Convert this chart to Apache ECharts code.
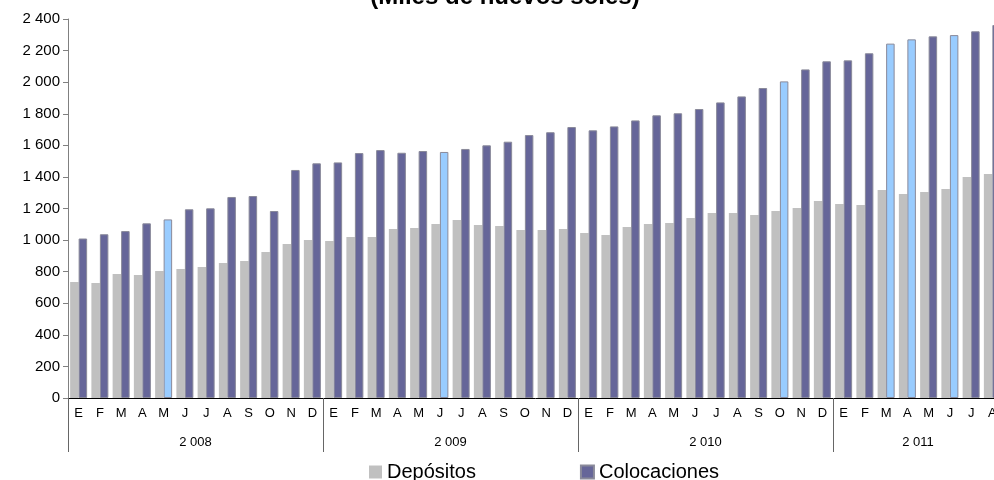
<!DOCTYPE html>
<html>
<head>
<meta charset="utf-8">
<script src="https://cdn.jsdelivr.net/npm/echarts@6/dist/echarts.min.js"></script>
<style>
  html, body { margin: 0; padding: 0; background: #fff; overflow: hidden; }
  /* el gráfico original está recortado por la derecha */
  #chart { width: 1010px; height: 480px; }
</style>
</head>
<body>
<div id="chart"></div>
<script>
// meses ene-2008 .. ago-2011
var meses = ['E','F','M','A','M','J','J','A','S','O','N','D',
             'E','F','M','A','M','J','J','A','S','O','N','D',
             'E','F','M','A','M','J','J','A','S','O','N','D',
             'E','F','M','A','M','J','J','A'];
var anios = ['2 008', '2 009', '2 010', '2 011'];
var aniosCentro = [6, 18, 30, 40];
var aniosLimites = [0, 12, 24, 36, 44];

var depositos = [735, 728, 785, 779, 804, 817, 830, 855, 868, 924, 975, 1000,
                 994, 1020, 1020, 1070, 1076, 1102, 1127, 1095, 1089, 1064, 1064, 1070,
                 1045, 1032, 1083, 1102, 1108, 1140, 1171, 1171, 1159, 1184, 1203, 1247,
                 1228, 1222, 1317, 1292, 1304, 1323, 1399, 1418];
var colocaciones = [1010, 1037, 1057, 1106, 1131, 1195, 1201, 1273, 1279, 1184, 1444, 1486,
                    1492, 1551, 1570, 1553, 1564, 1558, 1577, 1600, 1623, 1665, 1683, 1716,
                    1695, 1720, 1758, 1790, 1803, 1830, 1872, 1910, 1963, 2005, 2081, 2132,
                    2138, 2183, 2244, 2271, 2290, 2298, 2322, 2362];
// barras resaltadas en celeste
var resaltados = [4, 17, 33, 38, 39, 41];

function miles(v) {
  return String(v).replace(/\B(?=(\d{3})+(?!\d))/g, ' ');
}

var chart = echarts.init(document.getElementById('chart'));
chart.setOption({
  animation: false,
  textStyle: { fontFamily: 'Liberation Sans, Arial, sans-serif' },
  title: {
    text: '(Miles de nuevos soles)',
    left: 500, textAlign: 'center', top: -20,
    textStyle: { fontSize: 24, fontWeight: 'bold', color: '#000' }
  },
  legend: {
    left: 364, top: 457,
    itemWidth: 13, itemHeight: 13, itemGap: 104,
    textStyle: { fontSize: 20, color: '#000' },
    data: [
      { name: 'Depósitos', icon: 'rect' },
      { name: 'Colocaciones', icon: 'rect' }
    ]
  },
  grid: { left: 68, top: 19, width: 935, height: 379 },
  xAxis: [
    {
      type: 'category',
      data: meses,
      axisLine: { lineStyle: { color: '#000', width: 1 } },
      axisTick: { show: false },
      axisLabel: { interval: 0, fontSize: 13, color: '#000', margin: 9 }
    },
    {
      type: 'value',
      position: 'bottom',
      min: 0, max: 44,
      axisLine: { show: false },
      splitLine: { show: false },
      axisTick: {
        show: true, length: 54,
        customValues: aniosLimites,
        lineStyle: { color: '#666', width: 1 }
      },
      axisLabel: {
        customValues: aniosCentro,
        fontSize: 13, color: '#000', margin: 38,
        formatter: function (v) { return anios[aniosCentro.indexOf(v)]; }
      }
    }
  ],
  yAxis: {
    type: 'value',
    min: 0, max: 2400, interval: 200,
    splitLine: { show: false },
    axisLine: { show: true, lineStyle: { color: '#808080' } },
    axisTick: { show: true, length: 5, lineStyle: { color: '#808080' } },
    axisLabel: { fontSize: 15, color: '#000', margin: 8, formatter: miles }
  },
  series: [
    {
      name: 'Depósitos',
      type: 'bar',
      data: depositos,
      barGap: '0%',
      barCategoryGap: '20%',
      itemStyle: { color: '#C0C0C0' }
    },
    {
      name: 'Colocaciones',
      type: 'bar',
      data: colocaciones.map(function (v, i) {
        if (resaltados.indexOf(i) >= 0) {
          return { value: v, itemStyle: { color: '#99CCFF' } };
        }
        return v;
      }),
      itemStyle: { color: '#666699', borderColor: '#8a8a9a', borderWidth: 1 }
    }
  ]
});
</script>
</body>
</html>
